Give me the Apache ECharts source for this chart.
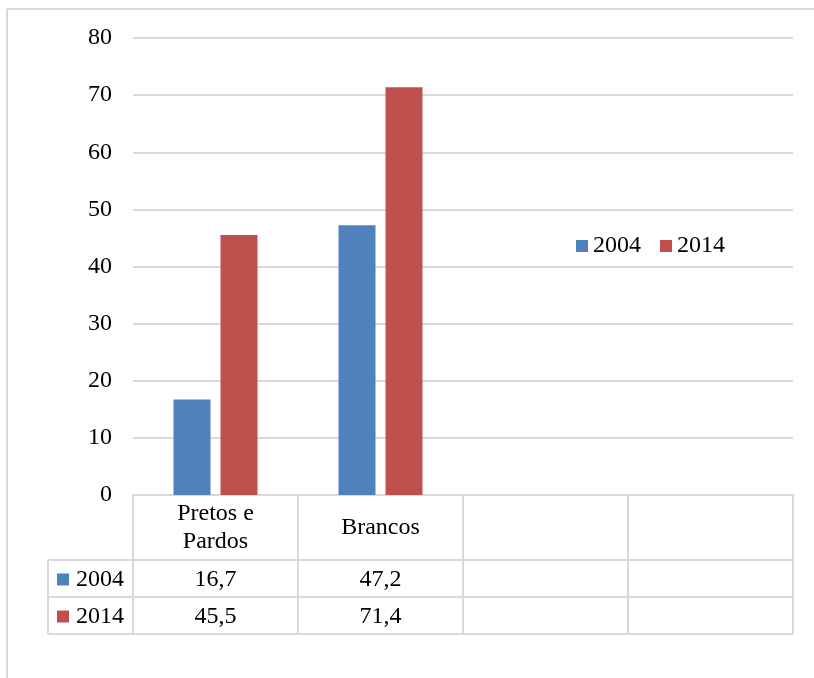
<!DOCTYPE html>
<html style="height: 100%">
<head>
    <meta charset="utf-8" />
    <title>Pretos e Pardos x Brancos</title>
    <script type="text/javascript" src="https://cdn.jsdelivr.net/npm/echarts@6/dist/echarts.min.js"></script>
</head>
<body style="height: 100%; margin: 0; background: #fff">
    <div id="container" style="width: 814px; height: 678px"></div>
</body>
</html>
<script type="text/javascript">
    // dados
    var categories = ['Pretos e\nPardos', 'Brancos', '', ''];
    var seriesNames = ['2004', '2014'];
    var values2004 = [16.7, 47.2, null, null];
    var values2014 = [45.5, 71.4, null, null];
    var yTicks = [0, 10, 20, 30, 40, 50, 60, 70, 80];
    var colors = ['#4f81bd', '#c0504d'];

    var font = "'Liberation Serif', 'Times New Roman', serif";
    var fontSize = 24;
    var lineColor = '#d9d9d9';

    // área do gráfico
    var gridLeft = 133, gridRight = 793, gridTop = 38, gridBottom = 495;
    var tableLeft = 48, row1 = 560, row2 = 597, row3 = 634;

    var dom = document.getElementById("container");
    var myChart = echarts.init(dom);

    function fmt(v) {
        return v == null ? '' : v.toFixed(1).replace('.', ',');
    }

    var option = {
        animation: false,
        textStyle: { fontFamily: font },
        grid: {
            left: gridLeft,
            right: 814 - gridRight,
            top: gridTop,
            bottom: 678 - gridBottom
        },
        legend: {
            data: seriesNames,
            left: 571,
            top: 229,
            itemWidth: 12,
            itemHeight: 12,
            itemGap: 19,
            icon: 'rect',
            textStyle: { fontSize: fontSize, color: '#000', fontFamily: font }
        },
        xAxis: {
            type: 'category',
            data: categories,
            axisLine: { show: true, lineStyle: { color: lineColor, width: 2 } },
            axisTick: { show: true, length: row3 - gridBottom, lineStyle: { color: lineColor, width: 2 } },
            axisLabel: {
                fontSize: fontSize,
                color: '#000',
                fontFamily: font,
                lineHeight: 28,
                verticalAlign: 'middle',
                margin: 33
            }
        },
        yAxis: {
            type: 'value',
            min: yTicks[0],
            max: yTicks[yTicks.length - 1],
            interval: yTicks[1] - yTicks[0],
            axisLine: { show: false },
            axisTick: { show: false },
            splitLine: { lineStyle: { color: lineColor, width: 2 } },
            axisLabel: { fontSize: fontSize, color: '#000', fontFamily: font, margin: 21 }
        },
        series: [{
            name: seriesNames[0],
            type: 'bar',
            data: values2004,
            barWidth: 37,
            barGap: '27%',
            itemStyle: { color: colors[0] }
        }, {
            name: seriesNames[1],
            type: 'bar',
            data: values2014,
            barWidth: 37,
            barGap: '27%',
            itemStyle: { color: colors[1] }
        }]
    };

    myChart.setOption(option);

    // tabela de dados abaixo do eixo
    var elements = [];
    var line = function (x1, y1, x2, y2) {
        elements.push({
            type: 'line',
            shape: { x1: x1, y1: y1, x2: x2, y2: y2 },
            style: { stroke: lineColor, lineWidth: 2 }
        });
    };
    // moldura do gráfico
    line(7, 9, 814, 9);
    line(7, 9, 7, 678);
    // linhas da tabela
    line(tableLeft, row1, gridRight, row1);
    line(tableLeft, row2, gridRight, row2);
    line(tableLeft, row3, gridRight, row3);
    line(tableLeft, row1, tableLeft, row3);

    var rows = [values2004, values2014];
    var rowY = [(row1 + row2) / 2, (row2 + row3) / 2];
    rows.forEach(function (vals, r) {
        elements.push({
            type: 'rect',
            shape: { x: 57, y: rowY[r] - 5, width: 12, height: 12 },
            style: { fill: colors[r] }
        });
        elements.push({
            type: 'text',
            x: 76,
            y: rowY[r] + 1,
            style: { text: seriesNames[r], fontSize: fontSize, fontFamily: font, fill: '#000', verticalAlign: 'middle' }
        });
        vals.forEach(function (v, i) {
            if (v == null) return;
            var px = myChart.convertToPixel({ xAxisIndex: 0 }, i);
            elements.push({
                type: 'text',
                x: px,
                y: rowY[r] + 1,
                style: { text: fmt(v), fontSize: fontSize, fontFamily: font, fill: '#000', align: 'center', verticalAlign: 'middle' }
            });
        });
    });

    myChart.setOption({ graphic: { elements: elements } });
</script>
